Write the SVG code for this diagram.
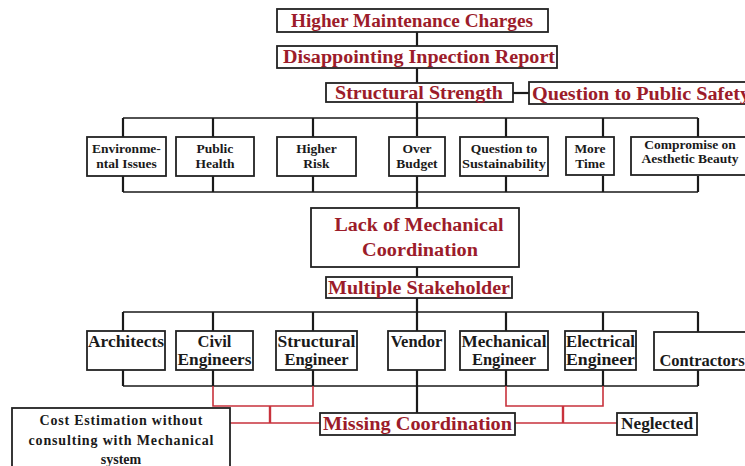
<svg xmlns="http://www.w3.org/2000/svg" width="745" height="466" viewBox="0 0 745 466">
<style>
.box{fill:#fff;stroke:#222;stroke-width:1.8}
.t{font-family:"Liberation Serif","Times New Roman","DejaVu Serif",serif;font-weight:bold;text-anchor:middle}
.r{fill:#9c1c2a}
.k{fill:#1a1a1a}
.big{font-size:18px}
.mid{font-size:16.5px}
.sm{font-size:13.5px}
.cn{fill:none;stroke:#1a1a1a;stroke-width:1.5}
.cm{fill:none;stroke:#1a1a1a;stroke-width:2.2}
.rd{fill:none;stroke:#c8323c;stroke-width:1.6}
</style>
<rect width="745" height="466" fill="#fff"/>
<g id="connectors">
<path class="cm" d="M417 32V46M417 68V83M417 102V136M417 176V208M417 267V277M417 298V331M417 370V413"/>
<path class="cm" d="M513 93H529"/>
<path class="cn" d="M123 118H698M123 192H698M123 312H698M123 386H698"/>
<path class="cm" d="M123 118V137M213 118V137M313 118V137M506 118V137M603 118V137M698 118V137"/>
<path class="cm" d="M123 176V192M213 176V192M313 176V192M506 176V192M603 176V192M698 176V192"/>
<path class="cm" d="M123 312V331M213 312V331M313 312V331M506 312V331M603 312V331M698 312V332"/>
<path class="cm" d="M123 370V386M213 370V386M313 370V386M506 370V386M603 370V386M698 370V386"/>
<path class="rd" d="M213 386V406H313V386M506 386V406H603V386"/>
<path class="rd" d="M230 423H320M515 423H617"/>
<path class="rd" d="M270 406V423M563 406V423" style="stroke-width:2.4"/>
</g>
<g id="higher-maintenance"><rect class="box" x="277" y="9" width="271" height="23"/><text class="t r big" x="412" y="27" textLength="242" lengthAdjust="spacingAndGlyphs">Higher Maintenance Charges</text></g>
<g id="disappointing"><rect class="box" x="277" y="46" width="280" height="22"/><text class="t r big" x="419" y="63" textLength="272" lengthAdjust="spacingAndGlyphs">Disappointing Inpection Report</text></g>
<g id="structural-strength"><rect class="box" x="326" y="83" width="187" height="19"/><text class="t r big" x="419" y="99" textLength="168" lengthAdjust="spacingAndGlyphs">Structural Strength</text></g>
<g id="public-safety"><rect class="box" x="529" y="82" width="222" height="22"/><text class="t r big" x="532" y="100" style="text-anchor:start" textLength="218" lengthAdjust="spacingAndGlyphs">Question to Public Safety</text></g>
<g id="environmental"><rect class="box" x="87" y="137" width="79" height="39"/><text class="t k sm" x="126.5" y="153">Environme-</text><text class="t k sm" x="126.5" y="168">ntal Issues</text></g>
<g id="public-health"><rect class="box" x="176" y="137" width="78" height="39"/><text class="t k sm" x="215" y="153">Public</text><text class="t k sm" x="215" y="168">Health</text></g>
<g id="higher-risk"><rect class="box" x="277" y="137" width="79" height="39"/><text class="t k sm" x="316.5" y="153">Higher</text><text class="t k sm" x="316.5" y="168">Risk</text></g>
<g id="over-budget"><rect class="box" x="389" y="137" width="56" height="39"/><text class="t k sm" x="417" y="153">Over</text><text class="t k sm" x="417" y="168">Budget</text></g>
<g id="sustainability"><rect class="box" x="460" y="137" width="88" height="39"/><text class="t k sm" x="504" y="153">Question to</text><text class="t k sm" x="504" y="168" textLength="84" lengthAdjust="spacingAndGlyphs">Sustainability</text></g>
<g id="more-time"><rect class="box" x="566" y="137" width="48" height="38"/><text class="t k sm" x="590" y="153">More</text><text class="t k sm" x="590" y="168">Time</text></g>
<g id="aesthetic"><rect class="box" x="631" y="137" width="120" height="38"/><text class="t k sm" x="690" y="149">Compromise on</text><text class="t k sm" x="690" y="163">Aesthetic Beauty</text></g>
<g id="lack-coordination"><rect class="box" x="311" y="208" width="208" height="59"/><text class="t r big" x="419" y="231" textLength="169" lengthAdjust="spacingAndGlyphs">Lack of Mechanical</text><text class="t r big" x="420" y="256" textLength="116" lengthAdjust="spacingAndGlyphs">Coordination</text></g>
<g id="multiple-stakeholder"><rect class="box" x="326" y="277" width="186" height="21"/><text class="t r big" x="419" y="294" textLength="182" lengthAdjust="spacingAndGlyphs">Multiple Stakeholder</text></g>
<g id="architects"><rect class="box" x="87" y="331" width="78" height="39"/><text class="t k mid" x="126" y="347" textLength="76" lengthAdjust="spacingAndGlyphs">Architects</text></g>
<g id="civil"><rect class="box" x="176" y="331" width="77" height="39"/><text class="t k mid" x="214.5" y="347">Civil</text><text class="t k mid" x="214.5" y="365" textLength="74" lengthAdjust="spacingAndGlyphs">Engineers</text></g>
<g id="structural-engineer"><rect class="box" x="276" y="331" width="81" height="39"/><text class="t k mid" x="316.5" y="347" textLength="78" lengthAdjust="spacingAndGlyphs">Structural</text><text class="t k mid" x="316.5" y="365">Engineer</text></g>
<g id="vendor"><rect class="box" x="388" y="331" width="57" height="39"/><text class="t k mid" x="416.5" y="347">Vendor</text></g>
<g id="mechanical"><rect class="box" x="460" y="331" width="88" height="39"/><text class="t k mid" x="504" y="347" textLength="85" lengthAdjust="spacingAndGlyphs">Mechanical</text><text class="t k mid" x="504" y="365">Engineer</text></g>
<g id="electrical"><rect class="box" x="565" y="331" width="71" height="39"/><text class="t k mid" x="600.5" y="347" textLength="69" lengthAdjust="spacingAndGlyphs">Electrical</text><text class="t k mid" x="600.5" y="365" textLength="69" lengthAdjust="spacingAndGlyphs">Engineer</text></g>
<g id="contractors"><rect class="box" x="654" y="332" width="97" height="38"/><text class="t k mid" x="702" y="366">Contractors</text></g>
<g id="cost-estimation"><rect class="box" x="12" y="408" width="218" height="62"/><text class="t k" style="font-size:14px" x="121" y="425" textLength="163" lengthAdjust="spacing">Cost Estimation without</text><text class="t k" style="font-size:14px" x="121" y="445" textLength="185" lengthAdjust="spacing">consulting with Mechanical</text><text class="t k" style="font-size:14px" x="121" y="464">system</text></g>
<g id="missing-coordination"><rect class="box" x="320" y="413" width="195" height="22"/><text class="t r big" x="417.5" y="430" textLength="189" lengthAdjust="spacingAndGlyphs">Missing Coordination</text></g>
<g id="neglected"><rect class="box" x="617" y="413" width="80" height="22"/><text class="t k mid" x="657" y="429" textLength="72" lengthAdjust="spacingAndGlyphs">Neglected</text></g>
</svg>
